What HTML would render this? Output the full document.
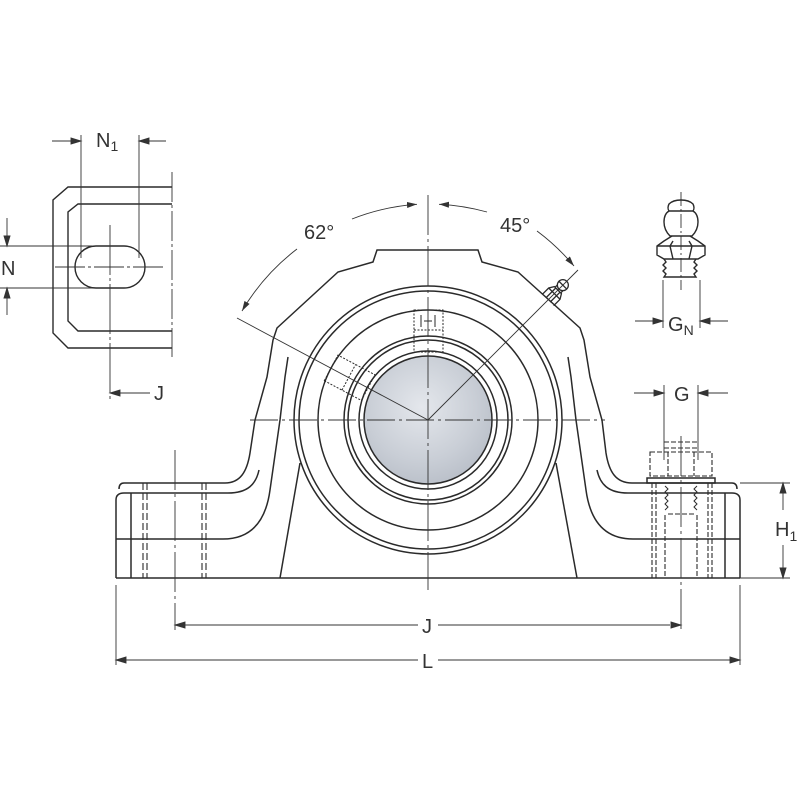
<!DOCTYPE html>
<html><head><meta charset="utf-8"><style>
html,body{margin:0;padding:0;background:#fff}
svg{display:block}
text{font-family:"Liberation Sans",sans-serif;fill:#333;font-size:20px}
</style></head><body>
<svg width="800" height="800" viewBox="0 0 800 800" xmlns="http://www.w3.org/2000/svg">
<defs>
<radialGradient id="sg" cx="0.45" cy="0.4" r="0.7">
<stop offset="0" stop-color="#e4e7ec"/><stop offset="0.6" stop-color="#c9ced6"/><stop offset="1" stop-color="#b4bac4"/>
</radialGradient>
<marker id="ar" markerWidth="10" markerHeight="6" refX="10" refY="3" orient="auto" markerUnits="userSpaceOnUse">
<path d="M0,0 L10,3 L0,6 Z" fill="#333"/></marker>
</defs>
<g fill="none" stroke="#2a2a2a" stroke-width="1.5">
<path d="M428,250 L377,250 L373,262 L338,272 L277,328 L273,340 L267,377 L255,420 L250,453 C247,472 240,483 225,483 L124,483 Q119,483 119,489"/>
<path d="M116,578 L116,500 Q116,493 124,493 L228,493 C248,493 256,484 259,470"/>
<path d="M288,357 L285,377 L280,420 L270,490 C266,520 252,539 223,539 L116,539"/>
<path d="M131,493 L131,578"/>
<path d="M280,578 L300,463"/>
<g stroke-dasharray="7,3" stroke-width="1.1">
<path d="M143,483 V578 M147,483 V578 M202,483 V578 M206,483 V578"/>
</g>
<path d="M428,250 L478,250 L482,262 L518,272 L580,328 L584,340 L590,377 L602,420 L606,453 C609,472 616,483 632,483 L732,483 Q737,483 737,489"/>
<path d="M740,578 L740,500 Q740,493 732,493 L628,493 C608,493 600,484 597,470"/>
<path d="M568,357 L571,377 L576,420 L586,490 C590,520 604,539 633,539 L740,539"/>
<path d="M725,493 L725,578"/>
<path d="M577,578 L556,463"/>
<path d="M116,578 H740"/>
<circle cx="428" cy="420" r="134"/>
<circle cx="428" cy="420" r="129"/>
<circle cx="428" cy="420" r="110"/>
<circle cx="428" cy="420" r="84"/>
<circle cx="428" cy="420" r="80"/>
<circle cx="428" cy="420" r="69"/>
<circle cx="428" cy="420" r="64" fill="url(#sg)"/>
<g stroke-dasharray="2,1.5" stroke-width="1">
<rect x="414" y="310" width="29" height="42"/>
<path d="M414,330 H443"/>
<g transform="rotate(-62 428 420)"><rect x="414" y="310" width="29" height="42"/><path d="M414,330 H443"/></g>
</g>
<path d="M421,315 V327 M435,315 V327 M424,321 H432" stroke-width="1"/>
<!-- grease nipple on housing -->
<g transform="translate(548,300) rotate(45)" stroke-width="1.3">
<path d="M-8,0 L-8,-9 L-5,-14 L5,-14 L8,-9 L8,0"/>
<path d="M-8,-9 H8 M-3,-14 V0 M3,-14 V0"/>
<path d="M-4,-14 L-4,-17 M4,-14 L4,-17"/>
<circle cx="0" cy="-21" r="5.5"/>
<path d="M-5,-21 H5"/>
</g>
<rect x="647" y="478" width="68" height="5"/>
<g stroke-dasharray="5,2" stroke-width="1.1">
<path d="M650,452 H712 V476 H650 Z M668,452 V476 M694,452 V476"/>
<path d="M664,442 H697 M664,448 H697"/>
<path d="M652,483 V578 M656,483 V578 M708,483 V578 M712,483 V578 M665,515 V578 M697,515 V578 M668,514 H694"/>
</g>
<path d="M665,486 l3,3 l-3,3 l3,3 l-3,3 l3,3 l-3,3 l3,3 l-3,3 M697,486 l-3,3 l3,3 l-3,3 l3,3 l-3,3 l3,3 l-3,3 l3,3" stroke-width="1"/>
</g>
<g fill="none" stroke="#333" stroke-width="0.9">
<path d="M250,420 H605" stroke-dasharray="28,4,3,4"/>
<path d="M428,195 V590" stroke-dasharray="40,4,3,4"/>
<path d="M175,450 V630 M681,436 V630" stroke-dasharray="40,4,3,4"/>
<path d="M428,420 L237,318 M428,420 L578,270"/>
<path d="M352,219 A216,216 0 0 1 417,204.3" marker-end="url(#ar)"/>
<path d="M297,249 A216,216 0 0 0 242,311" marker-end="url(#ar)"/>
<path d="M487,212 A216,216 0 0 0 439,204.3" marker-end="url(#ar)"/>
<path d="M537,231 A216,216 0 0 1 574,266" marker-end="url(#ar)"/>
<path d="M116,585 V665 M740,585 V665 M740,483 H790 M740,578 H790"/>
<path d="M185,625 H418 M438,625 H670"/>
<path d="M175,625 L185,622 L185,628 Z M681,625 L671,622 L671,628 Z" fill="#333"/>
<path d="M126,660 H418 M438,660 H730"/>
<path d="M116,660 L126,657 L126,663 Z M740,660 L730,657 L730,663 Z" fill="#333"/>
<path d="M783,493 V510 M783,545 V568"/>
<path d="M783,483 L780,493 L786,493 Z M783,578 L780,568 L786,568 Z" fill="#333"/>
<path d="M664,385 V460 M698,385 V460"/>
<path d="M634,393 H664 M698,393 H728" />
<path d="M664,393 L654,390 L654,396 Z M698,393 L708,390 L708,396 Z" fill="#333"/>
<path d="M663,280 V328 M700,280 V328 M635,321 H663 M700,321 H728"/>
<path d="M663,321 L653,318 L653,324 Z M700,321 L710,318 L710,324 Z" fill="#333"/>
<path d="M681,192 V290" stroke-dasharray="14,3,2,3"/>
</g>
<g fill="none" stroke="#2a2a2a" stroke-width="1.4">
<path d="M670,236 Q664,230 664,222 Q664,214 669,211 Q667,208 669,204 Q673,200 681,200 Q689,200 693,204 Q695,208 693,211 Q698,214 698,222 Q698,230 692,236 Z"/>
<path d="M669,211 H693"/>
<path d="M672,236 L664,241 L657,246 L657,255 L664,259 L698,259 L705,255 L705,246 L698,241 L690,236"/>
<path d="M657,246 H705 M673,241 L670,246 L673,259 M689,241 L692,246 L689,259"/>
<path d="M664,259 l2,3 l-3,3 l3,3 l-3,3 l3,3 l-2,3 L696,277 l-2,-3 l3,-3 l-3,-3 l3,-3 l-3,-3 l2,-3"/>
</g>
<g fill="none" stroke="#2a2a2a" stroke-width="1.4">
<path d="M172,187 H68 L53,200 V333 L68,348 H172"/>
<path d="M172,204 H78 L68,212 V321 L78,331 H172"/>
<path d="M96,246 H124 A21,21 0 0 1 124,288 H96 A21,21 0 0 1 96,246 Z"/>
</g>
<g fill="none" stroke="#333" stroke-width="0.9">
<path d="M172,172 V357" stroke-dasharray="30,3,3,3"/>
<path d="M55,267 H165" stroke-dasharray="30,3,3,3"/>
<path d="M110,225 V400" stroke-dasharray="50,3,3,3"/>
<path d="M81,135 V258 M139,135 V258"/>
<path d="M52,141 H71 M149,141 H166"/>
<path d="M81,141 L71,138 L71,144 Z M139,141 L149,138 L149,144 Z" fill="#333"/>
<path d="M0,246 H92 M0,288 H92"/>
<path d="M7,218 V236 M7,298 V315"/>
<path d="M7,246 L4,236 L10,236 Z M7,288 L4,298 L10,298 Z" fill="#333"/>
<path d="M120,393 H150"/>
<path d="M110,393 L120,390 L120,396 Z" fill="#333"/>
</g>
<text x="304" y="239" font-size="21">62°</text>
<text x="500" y="232" font-size="21">45°</text>
<text x="96" y="147">N<tspan font-size="14" dy="4">1</tspan></text>
<text x="1" y="275">N</text>
<text x="154" y="400">J</text>
<text x="668" y="331">G<tspan font-size="14" dy="4">N</tspan></text>
<text x="674" y="401">G</text>
<text x="775" y="536">H<tspan font-size="14" dy="5">1</tspan></text>
<text x="422" y="633">J</text>
<text x="422" y="668">L</text>
</svg>
</body></html>
